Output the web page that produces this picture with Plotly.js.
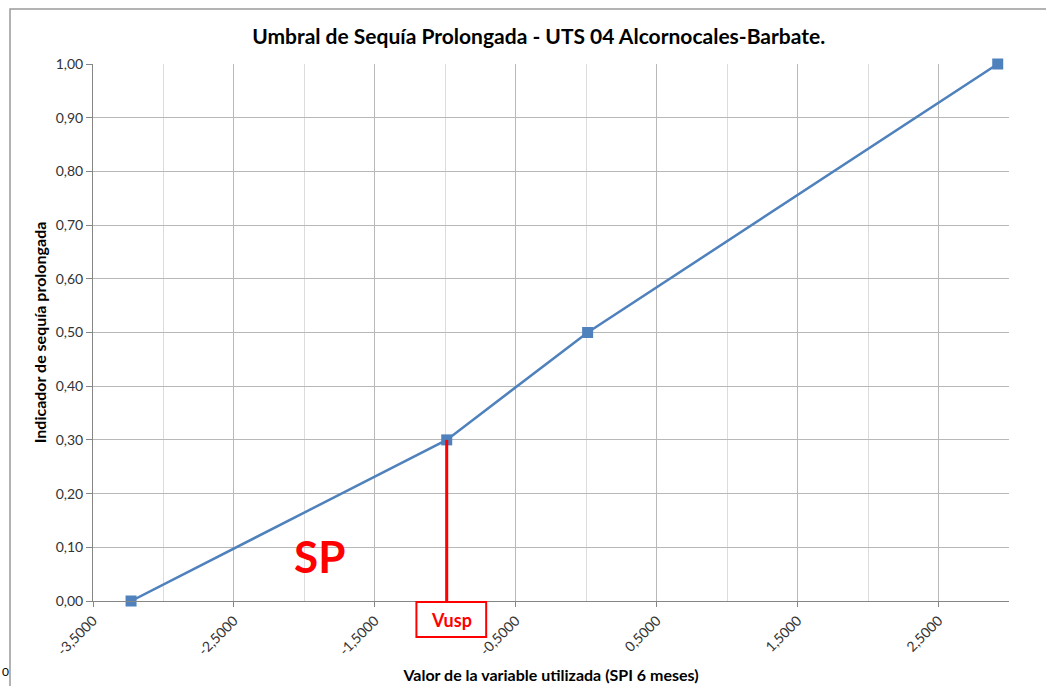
<!DOCTYPE html>
<html>
<head>
<meta charset="utf-8">
<script src="https://cdn.plot.ly/plotly-3.0.1.min.js"></script>
<style>html,body{margin:0;padding:0;background:#fff;}#chart{width:1046px;height:686px;}</style>
</head>
<body>
<div id="chart"></div>
<script>
// Data
const spiValues = [-3.23, -0.99, 0.01, 2.92];
const indicatorValues = [0.00, 0.30, 0.50, 1.00];
const vuspX = -0.99;
const vuspY = 0.30;
const vuspLabel = "Vusp";
const zoneLabel = "SP";
const titleText = "Umbral de Sequía Prolongada - UTS 04 Alcornocales-Barbate.";
const xTitleText = "Valor de la variable utilizada (SPI 6 meses)";
const yTitleText = "Indicador de sequía prolongada";
const xTickVals = [-3.5, -2.5, -1.5, -0.5, 0.5, 1.5, 2.5];
const xTickText = ["-3,5000", "-2,5000", "-1,5000", "-0,5000", "0,5000", "1,5000", "2,5000"];
const yTickVals = [0, 0.1, 0.2, 0.3, 0.4, 0.5, 0.6, 0.7, 0.8, 0.9, 1.0];
const yTickText = ["0,00", "0,10", "0,20", "0,30", "0,40", "0,50", "0,60", "0,70", "0,80", "0,90", "1,00"];

const FONT = "Lato, 'Open Sans', sans-serif";
const BLUE = "#4F81BD";
const RED = "#FF0000";

const trace = {
  x: spiValues,
  y: indicatorValues,
  type: "scatter",
  mode: "lines+markers",
  line: {color: BLUE, width: 2.5},
  marker: {symbol: "square", size: 11, color: BLUE},
  cliponaxis: false,
  hoverinfo: "x+y",
  showlegend: false
};

const layout = {
  width: 1046,
  height: 686,
  paper_bgcolor: "#ffffff",
  plot_bgcolor: "#ffffff",
  margin: {l: 93, r: 37, t: 64, b: 85},
  font: {family: FONT, color: "#000"},
  title: {
    text: "<b>" + titleText + "</b>",
    font: {family: FONT, size: 21, color: "#000"},
    x: 0.515, xanchor: "center",
    y: 0.946, yanchor: "middle"
  },
  xaxis: {
    range: [-3.5, 3.0],
    tickmode: "array",
    tickvals: xTickVals,
    ticktext: xTickText,
    tickangle: -45,
    ticks: "outside",
    ticklen: 5,
    tickcolor: "#868686",
    tickfont: {family: FONT, size: 14, color: "#333"},
    showgrid: true,
    gridcolor: "#b8b8b8",
    gridwidth: 1,
    minor: {tickmode: "array", tickvals: [-3, -2, -1, 0, 1, 2, 3], showgrid: true, gridcolor: "#dcdcdc", gridwidth: 1, ticks: ""},
    showline: true,
    linecolor: "#868686",
    linewidth: 1,
    zeroline: false,
    fixedrange: true,
    title: {text: "<b>" + xTitleText + "</b>", font: {family: FONT, size: 16, color: "#000"}, standoff: 12}
  },
  yaxis: {
    range: [0, 1.0],
    tickmode: "array",
    tickvals: yTickVals,
    ticktext: yTickText,
    ticks: "outside",
    ticklen: 6,
    tickcolor: "#868686",
    tickfont: {family: FONT, size: 14, color: "#333"},
    showgrid: true,
    gridcolor: "#b8b8b8",
    gridwidth: 1,
    showline: true,
    linecolor: "#868686",
    linewidth: 1,
    zeroline: false,
    fixedrange: true,
    title: {text: "<b>" + yTitleText + "</b>", font: {family: FONT, size: 16, color: "#000"}, standoff: 5}
  },
  shapes: [
    // outer chart border
    {type: "rect", xref: "paper", yref: "paper", x0: -0.0906, x1: 1.1, y0: -0.17, y1: 1.1024,
     line: {color: "#9a9a9a", width: 1.5}, fillcolor: "rgba(0,0,0,0)", layer: "below"},
    // red threshold line
    {type: "line", xref: "x", yref: "y", x0: vuspX, x1: vuspX, y0: vuspY, y1: 0,
     line: {color: RED, width: 3}},
    // Vusp label box
    {type: "rect", xref: "x", yref: "paper", x0: vuspX - 0.215, x1: vuspX + 0.28, y0: -0.067, y1: -0.002,
     line: {color: RED, width: 2}, fillcolor: "#ffffff"}
  ],
  annotations: [
    {text: "<b>" + vuspLabel + "</b>", xref: "x", yref: "paper", x: vuspX + 0.033, y: -0.035,
     showarrow: false, font: {family: FONT, size: 18, color: RED}, xanchor: "center", yanchor: "middle"},
    {text: "<b>" + zoneLabel + "</b>", xref: "x", yref: "y", x: -1.89, y: 0.083,
     showarrow: false, font: {family: FONT, size: 44, color: RED}, xanchor: "center", yanchor: "middle"},
    {text: "0", xref: "paper", yref: "paper", x: -0.096, y: -0.132,
     showarrow: false, font: {family: FONT, size: 12, color: "#000"}, xanchor: "center", yanchor: "middle"}
  ]
};

Plotly.newPlot("chart", [trace], layout, {displayModeBar: false, staticPlot: false});
</script>
</body>
</html>
